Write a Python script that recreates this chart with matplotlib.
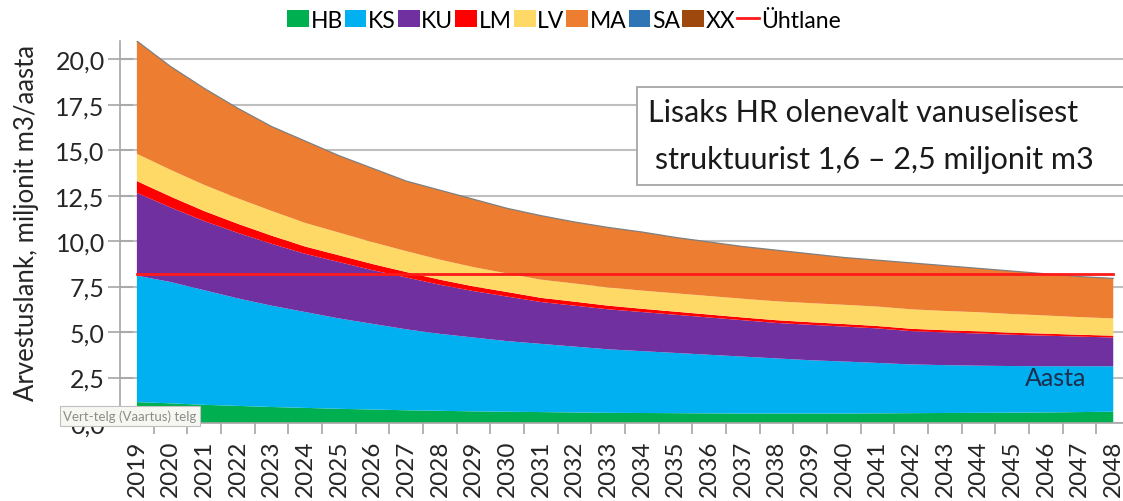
import matplotlib
matplotlib.use("Agg")
import matplotlib.pyplot as plt
import numpy as np
from matplotlib.patches import Patch, Rectangle
from matplotlib.lines import Line2D

plt.rcParams['font.family'] = ['Lato', 'DejaVu Sans']

# Aastad
aastad = list(range(2019, 2049))

# Arvestuslank liikide kaupa, miljonit m3/aasta
HB = [1.15, 1.08, 1.00, 0.94, 0.88, 0.83, 0.78, 0.74, 0.70, 0.67, 0.64, 0.62, 0.60, 0.58, 0.56,
      0.55, 0.54, 0.53, 0.52, 0.52, 0.52, 0.52, 0.53, 0.54, 0.55, 0.56, 0.57, 0.58, 0.60, 0.62]
KS = [6.95, 6.67, 6.30, 5.91, 5.57, 5.27, 4.97, 4.71, 4.45, 4.23, 4.06, 3.88, 3.75, 3.62, 3.49,
      3.40, 3.31, 3.22, 3.13, 3.03, 2.93, 2.86, 2.77, 2.68, 2.63, 2.59, 2.56, 2.54, 2.52, 2.50]
KU = [4.55, 4.10, 3.80, 3.60, 3.40, 3.20, 3.10, 2.95, 2.85, 2.70, 2.55, 2.45, 2.30, 2.25, 2.20,
      2.15, 2.10, 2.05, 2.00, 1.95, 1.95, 1.92, 1.90, 1.83, 1.80, 1.77, 1.72, 1.68, 1.63, 1.58]
LM = [0.65, 0.60, 0.55, 0.50, 0.45, 0.40, 0.37, 0.34, 0.30, 0.28, 0.26, 0.25, 0.23, 0.22, 0.20,
      0.18, 0.17, 0.16, 0.15, 0.15, 0.14, 0.14, 0.13, 0.13, 0.12, 0.12, 0.11, 0.11, 0.10, 0.10]
LV = [1.50, 1.47, 1.44, 1.40, 1.36, 1.30, 1.25, 1.20, 1.15, 1.10, 1.06, 1.02, 1.00, 1.00, 1.00,
      1.00, 1.01, 1.02, 1.03, 1.04, 1.05, 1.06, 1.07, 1.07, 1.06, 1.05, 1.03, 1.00, 0.97, 0.95]
MA = [6.20, 5.68, 5.31, 4.95, 4.64, 4.50, 4.23, 4.06, 3.85, 3.82, 3.73, 3.58, 3.52, 3.38, 3.30,
      3.22, 3.07, 2.97, 2.87, 2.81, 2.71, 2.60, 2.55, 2.55, 2.49, 2.41, 2.36, 2.29, 2.23, 2.20]
SA = [0.0] * 30
XX = [0.0] * 30
uhtlane = 8.2

nimed = ['HB', 'KS', 'KU', 'LM', 'LV', 'MA', 'SA', 'XX']
varvid = ['#00B050', '#00B0F0', '#7030A0', '#FF0000', '#FFD966', '#ED7D31', '#2E75B6', '#9E480E']

fig = plt.figure(figsize=(11.23, 5.02), dpi=100)
ax = fig.add_axes([0.1069, 0.1554, 0.8994, 0.7609])

x = np.arange(len(aastad))
ax.stackplot(x, HB, KS, KU, LM, LV, MA, SA, XX, colors=varvid, linewidth=0, zorder=2)
kokku = np.sum([HB, KS, KU, LM, LV, MA, SA, XX], axis=0)
ax.plot(x, kokku, color='#7F7F7F', lw=0.9, zorder=3)
ax.plot(x, [uhtlane] * len(x), color='#FF1A1A', lw=2, zorder=4)

ax.set_xlim(-0.5, len(x) - 0.5)
ax.set_ylim(0, 21)
ax.set_yticks(np.arange(0, 20.1, 2.5))
ax.set_yticklabels([f"{v:.1f}".replace('.', ',') for v in np.arange(0, 20.1, 2.5)],
                   fontsize=18, color='#262626')
ax.yaxis.grid(True, color='#BFBFBF', lw=1.5, zorder=0)
ax.set_axisbelow(True)
ax.tick_params(axis='y', direction='inout', length=18, width=1.2, color='#A6A6A6', pad=2)

ax.set_xticks(x)
ax.set_xticklabels([str(a) for a in aastad], rotation=90, fontsize=17.5, color='#262626')
ax.tick_params(axis='x', which='major', length=0, pad=12)
ax.set_xticks(np.arange(0.5, len(x) - 0.5, 1), minor=True)
ax.tick_params(axis='x', which='minor', direction='out', length=8, width=1.2, color='#A6A6A6')

for s in ['top', 'right']:
    ax.spines[s].set_visible(False)
ax.spines['left'].set_color('#A6A6A6')
ax.spines['bottom'].set_color('#A6A6A6')
ax.spines['left'].set_linewidth(1.2)
ax.spines['bottom'].set_linewidth(1.2)

fig.text(0.024, 0.556, 'Arvestuslank, miljonit m3/aasta', rotation=90, fontsize=18.5,
         color='#262626', ha='center', va='center')

# Kast paremal ülal, ulatub pildi servani
fig.add_artist(Rectangle((637 / 1123, 1 - 186 / 502), 0.5, 98 / 502, transform=fig.transFigure,
                         fc='white', ec='#A6A6A6', lw=1.3, zorder=5))
fig.text(648 / 1123, 1 - 113 / 502, 'Lisaks HR olenevalt vanuselisest', fontsize=22,
         color='#1A1A1A', ha='left', va='center', zorder=6)
fig.text(655 / 1123, 1 - 160 / 502, 'struktuurist 1,6 \u2013 2,5 miljonit m3', fontsize=22,
         color='#1A1A1A', ha='left', va='center', zorder=6)

fig.text(0.940, 0.247, 'Aasta', fontsize=18, color='#1F2D4D', ha='center', va='center')

fig.text(0.056, 1 - 417 / 502, 'Vert-telg (Vaartus) telg', fontsize=9.5, color='#8C8C8C',
         ha='left', va='center', zorder=10,
         bbox=dict(boxstyle='square,pad=0.25', fc='#F7F7F2', ec='#BFBFBF', lw=0.8))

kasitsed = [Patch(facecolor=c, edgecolor='none') for c in varvid]
kasitsed.append(Line2D([0], [0], color='#FF1A1A', lw=2))
fig.legend(kasitsed, nimed + ['Ühtlane'], loc='center', bbox_to_anchor=(0.502, 1 - 21 / 502),
           ncol=9, frameon=False, fontsize=16.5, handlelength=0.95, handleheight=0.75,
           handletextpad=0.08, columnspacing=0.08, borderaxespad=0.0, borderpad=0.0)

fig.savefig('out.png', dpi=100)
